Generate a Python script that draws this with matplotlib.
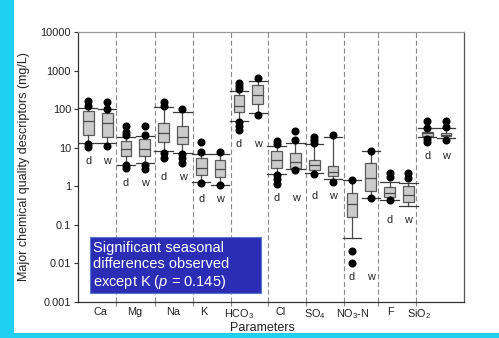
import matplotlib
matplotlib.use("Agg")
import matplotlib.pyplot as plt
from matplotlib.patches import Rectangle
from matplotlib.ticker import FixedLocator, NullFormatter, FixedFormatter

plt.rcParams['font.family'] = ['Liberation Sans', 'DejaVu Sans']
plt.rcParams['mathtext.fontset'] = 'custom'
plt.rcParams['mathtext.rm'] = 'Liberation Sans'
plt.rcParams['mathtext.it'] = 'Liberation Sans:italic'

# ---- data ----
categories = ['Ca', 'Mg', 'Na', 'K', 'HCO$_3$', 'Cl', 'SO$_4$', 'NO$_3$-N', 'F', 'SiO$_2$']
seasons = ['d', 'w']

whislo = [13, 13, 3.5, 3.9, 8, 7.3, 1.31, 1.1, 49, 81,
          2.04, 2.8, 2.15, 1.5, 0.046, 0.5, 0.44, 0.31, 19.5, 17.5]
q1 = [22, 19, 6, 6.1, 14, 12.2, 1.95, 1.76, 86, 133,
      3.0, 3.0, 2.6, 1.9, 0.162, 0.76, 0.535, 0.40, 20.4, 20]
med = [48, 44, 9, 9.4, 24, 18.5, 3.0, 2.8, 120, 232,
       4.8, 4.3, 3.5, 2.4, 0.34, 1.66, 0.68, 0.59, 23.5, 21.3]
q3 = [90, 81, 14.5, 16.5, 45, 37, 5.3, 4.8, 232, 422,
      8.2, 7.1, 4.7, 3.3, 0.68, 4.07, 0.94, 1.01, 26, 24.4]
whishi = [110, 100, 19, 20, 115, 86, 6.7, 6.7, 300, 546,
          11, 13.4, 12.5, 18.5, 1.45, 8.3, 1.31, 1.23, 32, 32]
fliers = [
    [162, 122, 12.5, 10.5], [155, 100, 11.3],
    [37, 25, 21, 3.5, 3.0], [37, 21, 3.5, 2.8],
    [150, 120, 7.5, 5.5], [99, 6.8, 5.3, 3.9],
    [14.3, 7.9, 1.2], [7.9, 1.1],
    [467, 400, 338, 47, 36.5, 28.7], [630, 70],
    [15.1, 12.4, 2.0, 1.5, 1.14], [27, 15.8, 2.6],
    [19, 16, 13.5, 2.1], [21.3, 1.3],
    [1.45, 0.021, 0.0104], [8.3, 0.5],
    [2.24, 1.7, 0.44], [2.16, 1.6],
    [50, 33, 16.5, 14.3], [50, 35, 16],
]

yticks = [0.001, 0.01, 0.1, 1, 10, 100, 1000, 10000]
ytick_labels = ['0.001', '0.01', '0.1', '1', '10', '100', '1000', '10000']

# layout (positions of separators and category labels on the x scale)
separators = [2.455, 4.54, 6.58, 8.56, 10.54, 12.56, 14.58, 16.4, 18.4]
label_pos = [1.62, 3.48, 5.48, 7.14, 9.0, 11.23, 13.04, 15.03, 17.02, 18.59]

# ---- figure ----
fig = plt.figure(figsize=(4.99, 3.38), dpi=100)
fig.patch.set_facecolor('white')
fig.patches.append(Rectangle((0, 0), 14 / 499, 1, transform=fig.transFigure,
                             facecolor='#1FD0F2', edgecolor='none', zorder=-5))
fig.patches.append(Rectangle((0, 0), 1, 5.5 / 338, transform=fig.transFigure,
                             facecolor='#1FD0F2', edgecolor='none', zorder=-5))

ax = fig.add_axes([78 / 499, 1 - 302 / 338, 386 / 499, 270 / 338])
ax.set_facecolor('white')

positions = list(range(1, len(whislo) + 1))
stats = []
for i in range(len(whislo)):
    stats.append(dict(whislo=whislo[i], q1=q1[i], med=med[i], q3=q3[i],
                      whishi=whishi[i], fliers=fliers[i]))

ax.bxp(stats, positions=positions, widths=0.57, capwidths=0.97,
       patch_artist=True, manage_ticks=False,
       boxprops=dict(facecolor='#CBCBCB', edgecolor='#5A5A5A', linewidth=0.9),
       medianprops=dict(color='#4A4A4A', linewidth=0.9),
       whiskerprops=dict(color='#4A4A4A', linewidth=0.9),
       capprops=dict(color='#3A3A3A', linewidth=0.9),
       flierprops=dict(marker='o', markerfacecolor='black', markeredgecolor='black',
                       markersize=4.8, linestyle='none'))

ax.set_yscale('log')
ax.set_ylim(0.001, 10000)
ax.set_xlim(0.453, 20.95)

ax.yaxis.set_major_locator(FixedLocator(yticks))
ax.yaxis.set_major_formatter(FixedFormatter(ytick_labels))
ax.yaxis.set_minor_locator(FixedLocator([]))
ax.tick_params(axis='y', which='major', direction='out', length=3, width=0.8,
               color='#333333', labelsize=7.9, pad=2, labelcolor='#222222')

# separators
for s in separators:
    ax.axvline(s, color='#8A8A8A', linewidth=0.8, dashes=(4.5, 2.5), zorder=0)

ax.xaxis.set_major_locator(FixedLocator(separators))
ax.xaxis.set_major_formatter(NullFormatter())
ax.xaxis.set_minor_locator(FixedLocator(label_pos))
ax.xaxis.set_minor_formatter(FixedFormatter(categories))
ax.tick_params(axis='x', which='major', direction='out', length=3, width=0.8,
               color='#8A8A8A')
ax.tick_params(axis='x', which='minor', length=0, labelsize=7.8, pad=3.5,
               labelcolor='#222222')

# d / w labels
n_s = len(seasons)
for g in range(len(categories)):
    idx = [g * n_s + k for k in range(n_s)]
    low = min(min([whislo[i]] + fliers[i]) for i in idx)
    for k, i in enumerate(idx):
        ax.annotate(seasons[k], xy=(positions[i], low), xycoords='data',
                    xytext=(0, -10), textcoords='offset points',
                    ha='center', va='center', fontsize=7.8, color='#222222')

for side in ['left', 'bottom']:
    ax.spines[side].set_color('#333333')
    ax.spines[side].set_linewidth(0.9)
ax.spines['top'].set_color('#9A9A9A')
ax.spines['top'].set_linewidth(0.9)
ax.spines['right'].set_color('#555555')
ax.spines['right'].set_linewidth(0.9)

ax.set_ylabel('Major chemical quality descriptors (mg/L)', fontsize=9, color='#222222')
ax.yaxis.set_label_coords(-0.124, 0.5)
ax.set_xlabel('Parameters', fontsize=9, color='#222222')
ax.xaxis.set_label_coords(0.477, -0.075)

# annotation box
ax.add_patch(Rectangle((0.031, 0.033), 0.443, 0.208, transform=ax.transAxes,
                       facecolor='#2C2DB5', edgecolor='#5577CC', linewidth=0.8,
                       zorder=5))
ax.text(0.039, 0.133, 'Significant seasonal\ndifferences observed\nexcept K ($\\it{p}$ = 0.145)',
        transform=ax.transAxes, ha='left', va='center', fontsize=10.5,
        color='white', linespacing=1.2, zorder=6)

fig.savefig('out.png', dpi=100)
